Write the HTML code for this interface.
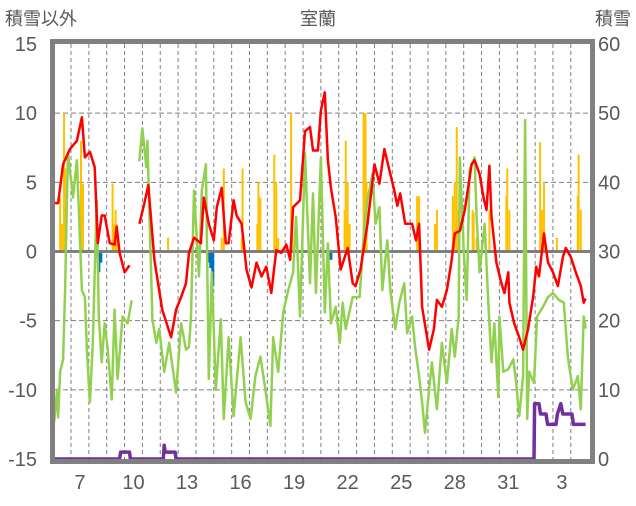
<!DOCTYPE html>
<html><head><meta charset="utf-8"><style>
html,body{margin:0;padding:0;background:#fff;}
svg text{font-family:"Liberation Sans","Noto Sans CJK JP",sans-serif;fill:#595959;}
</style></head><body>
<svg id="chart" width="636" height="501" viewBox="0 0 636 501" xmlns="http://www.w3.org/2000/svg">
<text x="5" y="25" font-size="18">積雪以外</text>
<text x="318" y="25" font-size="18" text-anchor="middle">室蘭</text>
<text x="631" y="25" font-size="18" text-anchor="end">積雪</text>
<g id="grid"></g><g id="bars"></g><g id="lines"></g><g id="axes"></g>
</svg>
<script>
const xTickLabels=["7","10","13","16","19","22","25","28","31","3"];
const xTickDays=[7,10,13,16,19,22,25,28,31,34];
const leftTicks=[15,10,5,0,-5,-10,-15];
const rightTicks=[60,50,40,30,20,10,0];
const tempT=[6.0,6.28,6.56,6.94,7.33,7.61,7.78,8.06,8.33,8.5,8.72,8.89,9.17,9.44,9.56,9.72,10.0,10.28,null,10.83,11.11,11.33,11.67,12.11,12.61,12.89,13.17,13.44,13.61,13.89,14.28,14.44,14.72,15.0,15.17,15.44,15.67,15.83,16.11,16.28,16.56,16.83,17.11,17.39,17.67,17.94,18.22,18.5,18.78,19.06,19.28,19.44,19.83,20.11,20.39,20.56,20.83,21.0,21.22,21.39,21.56,21.83,22.11,22.5,22.78,22.94,23.22,23.61,24.0,24.28,24.56,24.83,25.11,25.28,25.44,25.72,26.11,26.33,26.5,26.67,27.06,27.33,27.5,27.78,28.06,28.33,28.5,28.78,29.06,29.44,29.61,29.89,30.11,30.28,30.44,30.56,30.83,31.11,31.28,31.5,31.56,31.83,32.11,32.33,32.61,32.89,33.06,33.22,33.5,33.72,34.0,34.28,34.56,34.72,35.0,35.28,35.56,35.72,35.83];
const tempV=[3.5,3.5,6.3,7.4,8.0,9.7,6.8,7.2,6.1,0.6,2.6,2.6,0.6,0.5,1.8,-0.1,-1.5,-1.0,null,2.0,3.5,4.8,-0.6,-4.2,-6.2,-4.2,-3.3,-2.3,-0.1,1.0,0.6,3.9,2.0,0.8,3.2,4.6,0.6,0.6,3.7,2.6,2.0,-1.3,-2.6,-0.8,-1.8,-1.1,-3.0,0.1,-0.1,0.5,-0.6,3.2,3.7,8.7,9.0,7.3,7.3,10.2,11.5,6.6,4.6,2.5,-1.3,0.25,-2.3,-2.5,-1.3,2.0,6.3,4.9,7.4,5.9,4.4,3.3,4.2,2.0,2.0,0.8,2.0,-4.0,-7.1,-5.6,-3.5,-4.0,-2.8,-0.6,1.3,1.5,3.0,6.3,6.6,5.6,3.9,3.0,6.2,2.5,-0.8,-2.3,-3.0,-1.5,-3.7,-5.2,-6.2,-7.1,-5.6,-3.3,-1.1,-1.8,1.3,-0.8,-1.5,-2.5,-0.4,0.25,-0.4,-1.5,-2.5,-3.7,-3.4];
const greenT=[6.06,6.22,6.28,6.39,6.56,6.67,6.78,6.83,7.11,7.33,7.61,7.78,7.89,8.06,8.22,8.44,8.56,8.72,8.89,9.06,9.28,9.44,9.61,9.89,10.17,10.39,null,10.83,11.0,11.22,11.28,11.56,11.78,11.94,12.22,12.5,12.89,13.17,13.44,13.61,13.72,13.89,14.17,14.33,14.56,14.72,14.89,15.11,15.39,15.56,15.83,16.11,16.5,16.78,17.06,17.33,17.61,17.89,18.17,18.33,18.61,18.89,19.17,19.44,19.61,19.83,20.11,20.39,20.56,20.72,21.0,21.22,21.39,21.56,21.83,22.06,22.22,22.39,22.78,23.17,23.44,23.61,23.89,24.06,24.28,24.44,24.72,24.89,25.17,25.39,25.67,25.83,26.11,26.28,26.5,26.67,26.83,27.06,27.22,27.5,27.78,28.06,28.33,28.5,28.72,28.78,29.0,29.17,29.33,29.61,29.72,29.89,30.17,30.39,30.56,30.72,30.94,31.0,31.22,31.5,31.78,31.94,32.11,32.33,32.44,32.56,32.67,32.94,33.11,33.44,33.72,34.0,34.33,34.61,34.83,35.11,35.39,35.56,35.72,35.83];
const greenV=[-12.3,-10,-12,-8.7,-7.8,-2.8,4.4,7.1,3.9,6.6,-2.8,-3.3,-7.1,-10.9,-6.6,3.7,-4.7,-8.0,-5.2,-7.1,-10.7,-4.2,-9.2,-4.7,-5.2,-3.6,null,6.6,8.9,6.1,8.0,-4.9,-6.6,-5.6,-8.7,-6.6,-10.2,-5.2,-7.1,-6.9,-4.7,4.4,-1.8,4.4,6.3,-9.2,-1.5,-10,-4.9,-12.1,-6.2,-11.9,-6.2,-10.9,-12.1,-9.0,-7.6,-10,-12.6,-6.2,-8.7,-4.4,-2.8,-1.5,2.5,-4.7,7.1,-2.3,4.2,-3.0,6.8,-4.4,0.6,-5.2,-4.0,-6.6,-3.7,-5.6,-3.3,-3.3,2.0,3.7,5.6,2.0,3.2,-2.8,0.8,-2.8,-5.6,-3.7,-2.3,-5.9,-4.7,-6.9,-9.0,-10.9,-13.1,-10,-8.0,-11.4,-6.6,-9.5,-5.6,-7.6,-4.7,6.8,0.1,-3.5,5.9,6.8,2.5,-1.5,2.0,-4.0,-8.0,-5.2,-10.5,-4.7,-8.7,-8.5,-7.8,-9.5,-11.9,-9.0,9.5,-12.1,-8.7,-9.5,-4.7,-4.0,-3.3,-3.0,-3.5,-3.7,-7.6,-10,-9.0,-11.4,-4.7,-5.5];
const snowT=[6.0,9.72,9.78,10.28,10.33,12.17,12.22,12.28,12.83,12.89,32.94,32.97,33.22,33.3,33.61,33.7,34.17,34.25,34.44,34.55,35.06,35.15,35.83];
const snowV=[0,0,1,1,0,0,2,1,1,0,0,8,8,6.5,6.5,5,5,6.5,8,6.5,6.5,5,5];
const precipT=[6.39,6.5,6.61,6.67,7.56,7.67,9.33,9.39,9.5,9.56,12.44,15.44,15.56,16.56,16.61,17.44,17.5,17.61,18.39,18.5,18.61,19.33,19.39,22.33,22.39,22.5,22.61,23.39,23.5,23.56,26.39,26.5,27.39,27.5,28.39,28.5,28.61,28.72,29.5,29.56,29.72,30.44,31.39,31.44,31.56,33.28,33.39,33.5,34.22,35.39,35.44,35.56];
const precipV=[3.9,2.0,10,6.0,8.0,4.9,4.9,2.0,3.0,2.0,1.0,1.0,6.0,1.0,6.0,2.0,5.0,3.9,7.0,5.0,1.0,10,3.0,3.0,8.0,5.0,2.0,10,10,5.0,4.0,4.0,2.0,3.0,4.0,5.0,9.0,3.0,3.0,2.8,1.0,3.0,4.0,6.0,3.0,7.9,3.0,5.0,1.0,4.0,7.0,3.0];
const negT=[8.56,8.67,14.72,14.83,14.94,21.56];
const negV=[-1.5,-0.8,-0.8,-1.2,-2.5,-0.6];

const L=55,R=590,T=44,B=459;
const xS=t=>71+(t-7)*17.85;
const yL=v=>(T+B)/2-v*(B-T)/30;
const yR=s=>B-s*(B-T)/60;
const NS="http://www.w3.org/2000/svg";
function mk(tag,parent,attrs){const e=document.createElementNS(NS,tag);for(const k in attrs)e.setAttribute(k,attrs[k]);document.getElementById(parent).appendChild(e);return e;}

for(let d=7;d<=35;d++){
  const g=mk('line','grid',{x1:xS(d),x2:xS(d),y1:T,y2:B,stroke:'#7f7f7f','stroke-width':1,'stroke-dasharray':'4,3'});
  
  
}
leftTicks.forEach(v=>{
  if(v===15||v===-15||v===0)return;
  const g=mk('line','grid',{x1:L,x2:R,y1:yL(v),y2:yL(v),stroke:'#7f7f7f','stroke-width':1,'stroke-dasharray':'5,3'});
  
  
});
precipT.forEach((t,i)=>{
  const b=mk('rect','bars',{x:xS(t)-1,y:yL(precipV[i]),width:2,height:yL(0)-yL(precipV[i]),fill:'#ffc000'});
  
  
});
negT.forEach((t,i)=>{
  const b=mk('rect','bars',{x:xS(t)-1.5,y:yL(0),width:3,height:yL(negV[i])-yL(0),fill:'#0070c0'});
  
  
});
function path(ts,vs,sc){let d='',pen=false;ts.forEach((t,i)=>{if(t===null){pen=false;return;}d+=(pen?'L':'M')+xS(t).toFixed(1)+','+sc(vs[i]).toFixed(1);pen=true;});return d;}
const zl=mk('line','lines',{x1:L,x2:R,y1:yL(0),y2:yL(0),stroke:'#7f7f7f','stroke-width':3});


const gp=mk('path','lines',{d:path(greenT,greenV,yL),fill:'none',stroke:'#92d050','stroke-width':2.5,'stroke-linejoin':'round','stroke-linecap':'round'});


const rp=mk('path','lines',{d:path(tempT,tempV,yL),fill:'none',stroke:'#ff0000','stroke-width':2.5,'stroke-linejoin':'round'});


const pp=mk('path','lines',{d:path(snowT,snowV,yR),fill:'none',stroke:'#7030a0','stroke-width':3.5,'stroke-linejoin':'round'});


const fr=mk('rect','axes',{x:L-2.5,y:T-2.5,width:R-L+5,height:B-T+5,fill:'none',stroke:'#808080','stroke-width':5});


leftTicks.forEach(v=>{
  const t=mk('text','axes',{x:37,y:yL(v)+7,'font-size':20,'text-anchor':'end'});t.textContent=v;
  
  
});
rightTicks.forEach(v=>{
  const t=mk('text','axes',{x:598,y:yR(v)+7,'font-size':20});t.textContent=v;
  
  
});
xTickDays.forEach((d,i)=>{
  const t=mk('text','axes',{x:xS(d+0.5),y:489,'font-size':20,'text-anchor':'middle'});t.textContent=xTickLabels[i];
  
  
});
</script>
</body></html>
